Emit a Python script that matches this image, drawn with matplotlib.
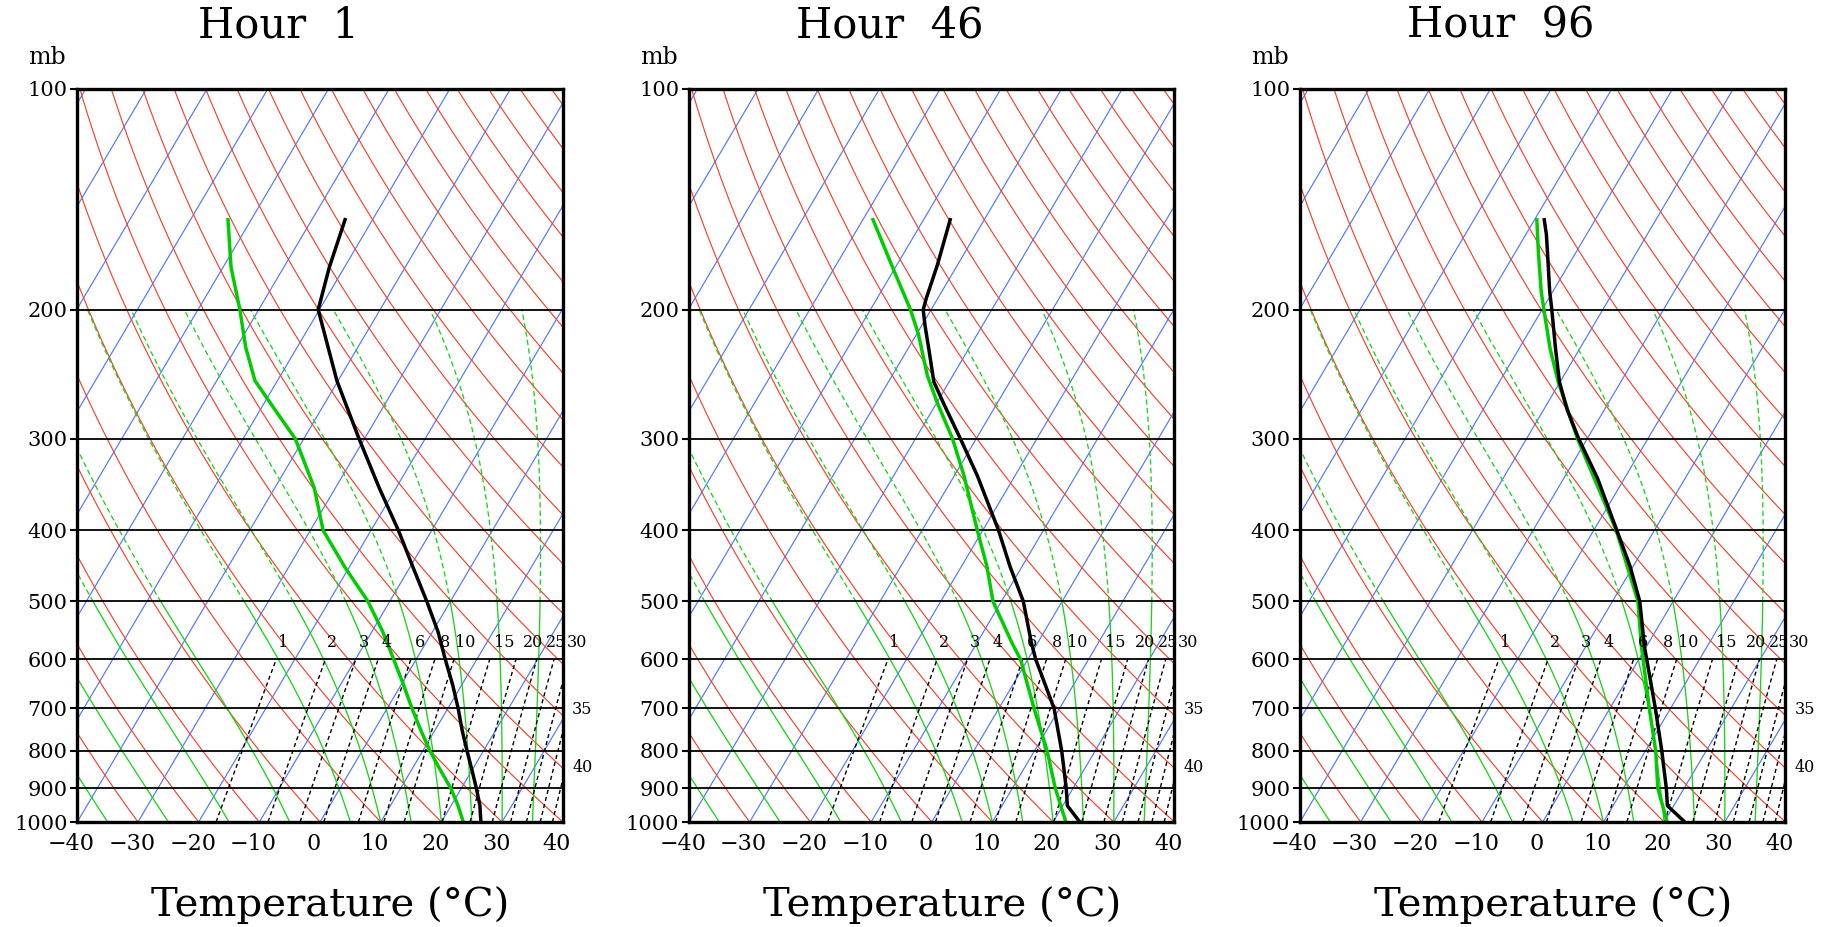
import numpy as np
import matplotlib
matplotlib.use("Agg")
import matplotlib.pyplot as plt
import matplotlib.transforms as mtrans

# ---------------------------------------------------------------------------
# sounding values (pressure in mb, temperatures in degC)
# ---------------------------------------------------------------------------
hours = ["1", "46", "96"]

p_t1 = [1000, 950, 900, 850, 800, 750, 700, 650, 600, 550, 500, 450, 400,
        350, 300, 250, 200, 175, 150]
t1 = [26.5, 24.75, 22.5, 20.0, 17.3, 14.5, 11.7, 8.5, 4.8, 0.9, -3.9, -9.4,
      -15.5, -22.8, -30.9, -40.2, -50.2, -52.5, -54.6]
p_d1 = [1000, 950, 900, 850, 800, 750, 700, 650, 600, 550, 500, 450, 400,
        350, 300, 275, 250, 225, 200, 175, 150]
td1 = [23.6, 21.15, 18.3, 14.8, 11.2, 7.7, 4.1, 0.4, -3.7, -8.2, -13.6, -20.6,
       -27.9, -33.5, -41.4, -47.3, -53.7, -58.5, -63.1, -68.7, -74.0]

p_t2 = [1000, 950, 900, 800, 700, 600, 570, 500, 448, 400, 337, 300, 270,
        251, 226, 210, 200, 193, 174, 150]
t2 = [24.4, 20.75, 18.9, 14.5, 9.1, 1.3, -1.0, -6.4, -12.0, -17.4, -26.2,
      -32.6, -38.5, -42.5, -46.6, -49.5, -51.3, -51.9, -53.3, -55.7]
p_d2 = [1000, 900, 800, 700, 600, 570, 500, 448, 400, 337, 300, 268, 246,
        216, 200, 178, 150]
td2 = [22.1, 17.1, 12.1, 5.8, -1.2, -4.2, -11.4, -15.8, -20.9, -28.4, -33.9,
       -39.9, -44.2, -49.7, -53.4, -59.6, -68.6]

p_t3 = [1000, 950, 900, 800, 700, 600, 576, 500, 448, 400, 340, 300, 274,
        251, 226, 200, 189, 168, 158, 150]
t3 = [23.4, 18.95, 17.1, 12.7, 7.5, 1.3, -0.35, -5.5, -10.5, -16.2, -24.4,
      -31.4, -36.1, -40.1, -44.0, -48.4, -50.5, -54.5, -56.6, -58.6]
p_d3 = [1000, 900, 800, 700, 600, 576, 500, 400, 300, 251, 226, 200, 189,
        168, 150]
td3 = [20.5, 15.7, 11.7, 6.5, 0.7, -0.85, -5.8, -16.3, -31.6, -40.3, -44.9,
       -49.7, -51.9, -56.0, -59.8]

soundings = [(p_t1, t1, p_d1, td1), (p_t2, t2, p_d2, td2), (p_t3, t3, p_d3, td3)]

# background diagram values
isotherms = list(range(-130, 50, 10))          # degC
dry_adiabats = list(range(-40, 220, 10))       # theta in degC
moist_adiabats = [-35, -25, -15, -5, 5, 10, 15, 20, 25, 30, 35]   # theta-w degC
mix_ratios = [1, 2, 3, 4, 6, 8, 10, 15, 20, 25, 30, 35, 40, 45, 50, 55]
mix_top_labels = [1, 2, 3, 4, 6, 8, 10, 15, 20, 25, 30]
mix_side_labels = {35: 703, 40: 843}
p_ticks = [100, 200, 300, 400, 500, 600, 700, 800, 900, 1000]
t_ticks = [-40, -30, -20, -10, 0, 10, 20, 30, 40]

SKEW = 31.0
RED = "#f4432c"
BLUE = "#5276ff"
GREEN = "#19d419"
FONT = "DejaVu Serif"


def skx(t, p):
    return np.asarray(t) + SKEW * np.log(1000.0 / np.asarray(p))


def dtdp_moist(T, p):
    tc = T - 273.15
    es = 6.112 * np.exp(17.67 * tc / (tc + 243.5))
    rs = 0.622 * es / (p - es)
    num = (287.04 * T + 2.501e6 * rs) / p
    den = 1005.7 + 2.501e6 ** 2 * rs * 0.622 / (287.04 * T * T)
    return num / den


def moist_line(tw, p):
    T = tw + 273.15
    out = [T]
    for i in range(1, len(p)):
        dp = p[i] - p[i - 1]
        k1 = dtdp_moist(T, p[i - 1])
        k2 = dtdp_moist(T + k1 * dp, p[i])
        T = T + 0.5 * (k1 + k2) * dp
        out.append(T)
    return np.array(out) - 273.15


def mix_line(w, p):
    e = w * p / (622.0 + w)
    lg = np.log(e / 6.112)
    return 243.5 * lg / (17.67 - lg)


fig = plt.figure(figsize=(18.31, 9.27), dpi=100)
W, H = 1831.0, 927.0
lefts = [77.3, 689.0, 1300.0]
pw, top, bot = 485.5, 89.0, 822.0
shift_left = mtrans.ScaledTranslation(-6 / 100.0, 0, fig.dpi_scale_trans)

pp = np.geomspace(1000, 100, 300)
pm = np.linspace(1000, 200, 400)
pw_ = np.linspace(1000, 600, 60)

for k, (left, hr) in enumerate(zip(lefts, hours)):
    ax = fig.add_axes([left / W, 1 - bot / H, pw / W, (bot - top) / H])
    ax.set_yscale("log")

    for t in isotherms:
        ax.plot(skx(np.full_like(pp, t), pp), pp, color=BLUE, lw=0.85, zorder=1)
    for th in dry_adiabats:
        tt = (th + 273.15) * (pp / 1000.0) ** 0.2857 - 273.15
        ax.plot(skx(tt, pp), pp, color=RED, lw=0.85, zorder=1)
    for tw in moist_adiabats:
        tt = moist_line(tw, pm)
        dashed = pm < 500
        xs = skx(tt, pm)
        ax.plot(np.where(dashed, np.nan, xs), pm, color=GREEN, lw=0.95, zorder=2)
        dmask = dashed | np.roll(dashed, -1)
        ax.plot(np.where(dmask, xs, np.nan), pm, color=GREEN, lw=0.95,
                ls=(0, (4, 2.5)), zorder=2)
    for w in mix_ratios:
        ax.plot(skx(mix_line(w, pw_), pw_), pw_, color="k", lw=1.0,
                ls=(0, (3, 2.2)), zorder=3)
    for w in mix_top_labels:
        xl = skx(mix_line(w, 600.0), 600.0)
        ax.annotate(str(w), (xl, 600), xytext=((6 + 0.55 * w) * 0.72, 12),
                    textcoords="offset points", ha="center", va="center",
                    fontsize=11.5, family=FONT, annotation_clip=False, zorder=6)
    for w, pl in mix_side_labels.items():
        ax.annotate(str(w), (40, pl), xytext=(14, 0), textcoords="offset points",
                    ha="center", va="center", fontsize=11.5, family=FONT,
                    annotation_clip=False)

    for p in p_ticks[1:-1]:
        ax.axhline(p, color="k", lw=1.3, zorder=4)

    pt, tt, pd, td = soundings[k]
    ax.plot(skx(td, pd), pd, color="#00cc00", lw=2.5, zorder=5,
            solid_capstyle="butt")
    ax.plot(skx(tt, pt), pt, color="k", lw=2.5, zorder=5,
            solid_capstyle="butt")

    ax.set_xlim(-40, 40)
    ax.set_ylim(1000, 100)
    ax.set_yticks(p_ticks)
    ax.set_yticklabels([str(p) for p in p_ticks], family=FONT, fontsize=15)
    ax.yaxis.set_minor_locator(matplotlib.ticker.NullLocator())
    ax.set_xticks(t_ticks)
    ax.set_xticklabels([str(t).replace("-", "\u2212") for t in t_ticks],
                       family=FONT, fontsize=16)
    ax.tick_params(axis="y", direction="out", length=5, width=1.5, pad=2)
    ax.tick_params(axis="x", length=0, pad=8)
    # labels sit a little left of their ticks in the original
    for tick in ax.xaxis.get_major_ticks():
        tick.label1.set_transform(tick.label1.get_transform() + shift_left)
    for s in ax.spines.values():
        s.set_linewidth(2.4)
        s.set_zorder(7)

    cx = left + pw / 2
    fig.text((cx - 42) / W, 1 - 26 / H, "Hour  " + hr, ha="center", va="center",
             family=FONT, fontsize=30)
    fig.text((left - 30) / W, 1 - 57 / H, "mb", ha="center", va="center",
             family=FONT, fontsize=17)
    fig.text((cx + 10) / W, 1 - 905 / H, "Temperature (\u00b0C)", ha="center",
             va="center", family=FONT, fontsize=29)

fig.savefig("out.png", dpi=100)
